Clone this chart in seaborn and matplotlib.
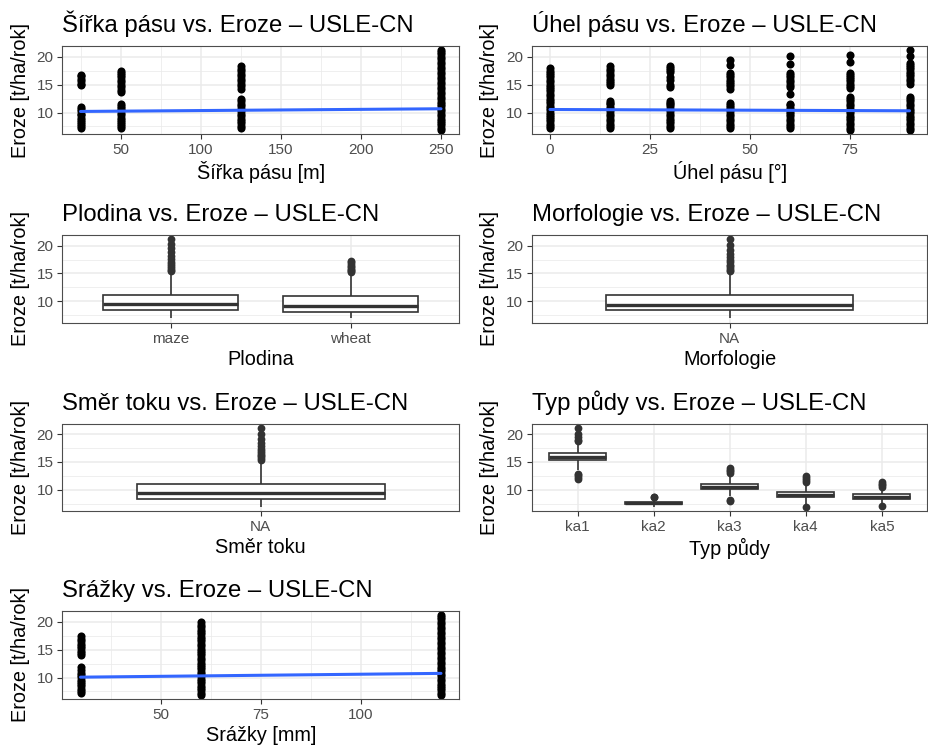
import matplotlib
matplotlib.use("Agg")
import matplotlib.pyplot as plt
from matplotlib.ticker import FixedLocator, NullLocator
import seaborn as sns

sns.set_theme(style="white")
plt.rcParams["font.family"] = ["Liberation Sans", "DejaVu Sans"]

Y_LABEL = "Eroze [t/ha/rok]"
TITLE_SUFFIX = " vs. Eroze – USLE-CN"

# ---- strip width [m] -------------------------------------------------------
width_levels = [25, 50, 125, 250]
width_erosion = [
    [7.2, 7.5, 7.9, 8.3, 8.6, 9.0, 9.5, 9.8, 10.2, 10.6, 11.0,
     14.9, 15.2, 15.6, 16.1, 16.5, 16.8],
    [7.2, 7.6, 8.0, 8.3, 8.7, 9.1, 9.5, 9.9, 10.4, 10.8, 11.2, 11.6,
     13.7, 14.1, 14.6, 15.0, 15.5, 15.9, 16.3, 16.8, 17.1, 17.4],
    [7.2, 7.6, 8.1, 8.5, 8.9, 9.3, 9.8, 10.2, 10.6, 11.1, 11.5, 12.0, 12.5,
     14.3, 14.7, 15.2, 15.6, 16.0, 16.5, 17.0, 17.4, 17.9, 18.4],
    [6.9, 7.3, 7.7, 8.1, 8.5, 8.9, 9.3, 9.8, 10.2, 10.6, 11.1, 11.5, 11.9,
     12.4, 12.8, 13.3, 13.7, 14.2, 14.6, 15.1, 15.5, 16.0, 16.4, 16.9, 17.3,
     17.8, 18.2, 18.7, 19.1, 19.6, 20.0, 20.5, 20.9, 21.2],
]
width_fit_x = [25, 250]
width_fit_y = [10.2, 10.68]

# ---- strip angle [deg] -----------------------------------------------------
angle_levels = [0, 15, 30, 45, 60, 75, 90]
angle_erosion = [
    [7.2, 7.6, 8.0, 8.4, 8.8, 9.2, 9.6, 10.0, 10.4, 10.8, 11.2, 11.7, 12.1,
     12.5, 12.9, 13.4, 13.8, 14.2, 14.6, 15.0, 15.5, 15.9, 16.3, 16.7, 17.1,
     17.5, 18.0],
    [7.2, 7.6, 8.0, 8.5, 8.9, 9.3, 9.8, 10.2, 10.6, 11.0, 11.5, 11.8, 12.1,
     14.9, 15.3, 15.7, 16.1, 16.6, 17.0, 17.4, 17.9, 18.3],
    [7.2, 7.6, 8.1, 8.5, 8.9, 9.4, 9.8, 10.2, 10.7, 11.1, 11.5, 11.8, 12.1,
     14.6, 15.0, 15.9, 16.3, 17.2, 17.6, 18.0, 18.3],
    [7.2, 7.6, 8.0, 8.4, 8.9, 9.3, 9.7, 10.2, 10.6, 11.0, 11.4, 11.7,
     14.3, 14.7, 15.1, 15.5, 15.9, 16.3, 16.7, 17.1, 18.6, 19.4],
    [7.2, 7.6, 8.0, 8.4, 8.9, 9.3, 9.7, 10.1, 10.5, 10.9, 11.3, 11.6, 13.4,
     14.6, 15.0, 15.4, 15.8, 16.3, 16.7, 17.1, 18.8, 20.1],
    [6.9, 7.3, 7.7, 8.2, 8.6, 9.0, 9.4, 9.9, 10.3, 10.7, 11.1, 11.6, 12.0,
     12.4, 12.8, 14.4, 14.8, 15.2, 15.6, 16.0, 16.4, 16.8, 17.1, 19.0, 20.4],
    [6.9, 7.3, 7.7, 8.2, 8.6, 9.0, 9.4, 9.9, 10.3, 10.7, 11.1, 11.6, 12.0,
     12.4, 12.8, 15.2, 15.6, 16.0, 16.5, 16.9, 17.3, 17.8, 18.2, 18.6, 18.9,
     20.2, 21.2],
]
angle_fit_x = [0, 90]
angle_fit_y = [10.55, 10.32]

# ---- precipitation [mm] ----------------------------------------------------
rain_levels = [30, 60, 120]
rain_erosion = [
    [7.2, 7.6, 8.0, 8.4, 8.8, 9.2, 9.6, 10.1, 10.5, 10.9, 11.4, 11.9,
     14.0, 14.4, 14.8, 15.3, 15.7, 16.1, 16.6, 17.0, 17.4],
    [6.9, 7.3, 7.7, 8.1, 8.5, 9.0, 9.4, 9.8, 10.2, 10.6, 11.0, 11.5, 11.9,
     12.3, 12.7, 13.1, 13.6, 14.0, 14.4, 14.8, 15.2, 15.7, 16.1, 16.5, 16.9,
     17.3, 17.8, 18.2, 18.6, 19.0, 19.5, 20.0],
    [6.9, 7.3, 7.7, 8.1, 8.5, 8.9, 9.3, 9.8, 10.2, 10.6, 11.1, 11.5, 11.9,
     12.4, 12.8, 13.3, 13.7, 14.2, 14.6, 15.1, 15.5, 16.0, 16.4, 16.9, 17.3,
     17.8, 18.2, 18.7, 19.1, 19.6, 20.0, 20.5, 20.9, 21.2],
]
rain_fit_x = [30, 120]
rain_fit_y = [10.07, 10.75]

# ---- crop ------------------------------------------------------------------
crop_levels = ["maze", "wheat"]
crop_erosion = [
    [6.9, 7.1, 7.3, 7.45, 7.6, 7.7, 7.8, 7.9, 8.0, 8.1, 8.2, 8.3, 8.38,
     8.42,
     8.5, 8.6, 8.65, 8.75, 8.8, 8.9, 9.0, 9.1, 9.2, 9.3, 9.35, 9.45,
     9.5,
     9.6, 9.7, 9.85, 9.95, 10.1, 10.2, 10.35, 10.5, 10.65, 10.8, 10.95, 11.05,
     11.15,
     15.1, 15.4, 15.7, 16.0, 16.3, 16.7, 17.1, 17.6, 18.2, 18.9, 19.6, 20.4,
     21.2],
    [6.9, 7.0, 7.1, 7.2, 7.3, 7.4, 7.5, 7.6, 7.7, 7.75, 7.8, 7.9, 7.95,
     8.0,
     8.1, 8.15, 8.25, 8.3, 8.4, 8.5, 8.6, 8.7, 8.8, 8.9, 8.95, 9.02,
     9.08,
     9.2, 9.35, 9.5, 9.6, 9.75, 9.9, 10.05, 10.2, 10.35, 10.5, 10.65, 10.8,
     10.9,
     11.3, 12.5, 14.0, 15.1, 15.35, 15.5, 15.7, 15.9, 16.1, 16.4, 16.7, 17.0,
     17.3],
]

# ---- whole data set (no morphology / flow direction recorded) ---------------
na_levels = ["NA"]
na_erosion = [
    [6.9, 7.05, 7.2, 7.35, 7.5, 7.6, 7.7, 7.8, 7.9, 8.0, 8.1, 8.2, 8.3,
     8.35,
     8.45, 8.5, 8.6, 8.65, 8.75, 8.85, 8.9, 9.0, 9.1, 9.15, 9.25, 9.3,
     9.35,
     9.45, 9.6, 9.7, 9.85, 9.95, 10.1, 10.25, 10.4, 10.55, 10.7, 10.85, 11.0,
     11.1,
     15.15, 15.4, 15.7, 16.0, 16.3, 16.6, 17.0, 17.4, 17.9, 18.5, 19.2, 20.1,
     21.2],
]

# ---- soil type -------------------------------------------------------------
soil_levels = ["ka1", "ka2", "ka3", "ka4", "ka5"]
soil_erosion = [
    [12.0, 12.3, 12.6, 12.8, 13.5, 14.5, 15.3, 15.45, 15.55, 15.65, 15.72,
     15.8, 15.85, 15.95, 16.1, 16.25, 16.4, 16.5, 16.6, 18.4, 18.7, 19.0,
     19.6, 20.1, 21.2],
    [6.95, 7.05, 7.15, 7.25, 7.3, 7.35, 7.4, 7.45, 7.5, 7.53, 7.56, 7.6,
     7.65, 7.72, 7.78, 7.85, 7.9, 8.0, 8.1, 8.65, 8.75],
    [8.0, 8.2, 8.9, 9.5, 9.9, 10.05, 10.2, 10.3, 10.4, 10.48, 10.55, 10.65,
     10.75, 10.85, 10.95, 11.1, 12.6, 13.0, 13.3, 13.6, 13.95],
    [6.9, 7.5, 8.1, 8.35, 8.5, 8.6, 8.7, 8.8, 8.9, 9.0, 9.1, 9.2, 9.3, 9.4,
     9.5, 9.6, 10.9, 11.3, 11.7, 12.05, 12.4],
    [7.05, 7.6, 7.95, 8.15, 8.25, 8.35, 8.45, 8.55, 8.62, 8.7, 8.75, 8.82,
     8.9, 9.0, 9.08, 9.15, 10.2, 10.5, 10.8, 11.1, 11.4],
]

# ---------------------------------------------------------------------------
FIG_W, FIG_H = 929, 747
fig = plt.figure(figsize=(FIG_W / 100, FIG_H / 100), dpi=100)
fig.patch.set_facecolor("white")

COLS = [(62.5, 459.0), (532.0, 927.5)]
ROWS = [(46.0, 134.0), (235.0, 322.5), (423.5, 511.0), (611.0, 699.0)]

TITLE_SIZE = 17.2
LABEL_SIZE = 14.3
TICK_SIZE = 11
BORDER = "#4D4D4D"


def make_axes(row, col):
    x0, x1 = COLS[col]
    y0, y1 = ROWS[row]
    return fig.add_axes([x0 / FIG_W, 1 - y1 / FIG_H,
                         (x1 - x0) / FIG_W, (y1 - y0) / FIG_H])


def flatten(levels, groups):
    xs, ys = [], []
    for lvl, vals in zip(levels, groups):
        xs.extend([lvl] * len(vals))
        ys.extend(vals)
    return xs, ys


def finish(ax, name, xlabel):
    ax.set_ylim(6.15, 21.95)
    ax.yaxis.set_major_locator(FixedLocator([10, 15, 20]))
    ax.yaxis.set_minor_locator(FixedLocator([7.5, 12.5, 17.5]))
    ax.set_facecolor("white")
    ax.grid(True, which="major", color="#EBEBEB", linewidth=1.1)
    ax.grid(True, which="minor", color="#EBEBEB", linewidth=0.55)
    ax.set_axisbelow(True)
    for sp in ax.spines.values():
        sp.set_visible(True)
        sp.set_color(BORDER)
        sp.set_linewidth(0.8)
    ax.tick_params(which="major", bottom=True, left=True, direction="out",
                   length=3.5, width=0.8, color="#333333",
                   labelsize=TICK_SIZE, labelcolor="#4D4D4D", pad=3)
    ax.tick_params(which="minor", length=0)
    ax.set_title(name + TITLE_SUFFIX, loc="left", fontsize=TITLE_SIZE,
                 color="black", pad=10)
    ax.set_xlabel(xlabel, fontsize=LABEL_SIZE, color="black", labelpad=3)
    ax.set_ylabel(Y_LABEL, fontsize=LABEL_SIZE, color="black", labelpad=5)


def scatter_panel(ax, levels, groups, fit_x, fit_y, major, minor, name,
                  xlabel):
    xs, ys = flatten(levels, groups)
    sns.scatterplot(x=xs, y=ys, ax=ax, color="black", s=34, linewidth=0,
                    legend=False, zorder=2)
    sns.lineplot(x=fit_x, y=fit_y, ax=ax, color="#3366FF", linewidth=2.2,
                 zorder=3)
    span = max(levels) - min(levels)
    ax.set_xlim(min(levels) - 0.05 * span, max(levels) + 0.05 * span)
    ax.xaxis.set_major_locator(FixedLocator(major))
    ax.xaxis.set_minor_locator(FixedLocator(minor))
    finish(ax, name, xlabel)


def box_panel(ax, levels, groups, name, xlabel):
    xs, ys = flatten(levels, groups)
    line = "#333333"
    sns.boxplot(x=xs, y=ys, order=levels, ax=ax, width=0.75, color="white",
                linecolor=line, linewidth=1.2, showcaps=False,
                medianprops=dict(color=line, linewidth=2.4,
                                 solid_capstyle="butt"),
                flierprops=dict(marker="o", markersize=5.6,
                                markerfacecolor=line, markeredgecolor=line,
                                markeredgewidth=0))
    ax.set_xlim(-0.6, len(levels) - 1 + 0.6)
    ax.xaxis.set_minor_locator(NullLocator())
    finish(ax, name, xlabel)
    ax.xaxis.grid(True, which="major", color="#EBEBEB", linewidth=1.1)


scatter_panel(make_axes(0, 0), width_levels, width_erosion,
              width_fit_x, width_fit_y,
              [50, 100, 150, 200, 250], [25, 75, 125, 175, 225],
              "Šířka pásu", "Šířka pásu [m]")
scatter_panel(make_axes(0, 1), angle_levels, angle_erosion,
              angle_fit_x, angle_fit_y,
              [0, 25, 50, 75], [12.5, 37.5, 62.5, 87.5],
              "Úhel pásu", "Úhel pásu [°]")
box_panel(make_axes(1, 0), crop_levels, crop_erosion, "Plodina", "Plodina")
box_panel(make_axes(1, 1), na_levels, na_erosion, "Morfologie", "Morfologie")
box_panel(make_axes(2, 0), na_levels, na_erosion, "Směr toku", "Směr toku")
box_panel(make_axes(2, 1), soil_levels, soil_erosion, "Typ půdy", "Typ půdy")
scatter_panel(make_axes(3, 0), rain_levels, rain_erosion,
              rain_fit_x, rain_fit_y,
              [50, 75, 100], [37.5, 62.5, 87.5, 112.5],
              "Srážky", "Srážky [mm]")

fig.savefig("out.png", dpi=100, facecolor="white")
